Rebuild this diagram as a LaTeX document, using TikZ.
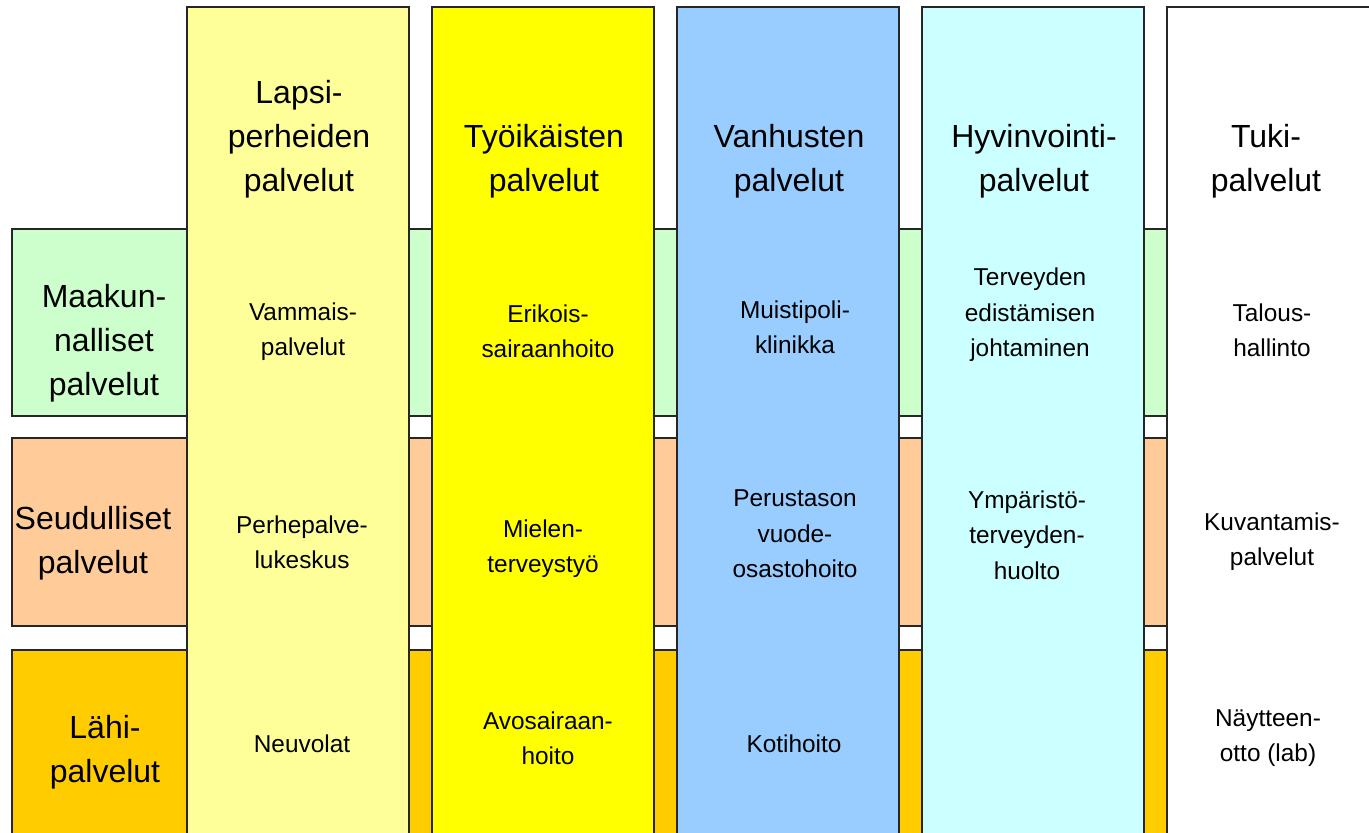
\documentclass[tikz,border=0pt]{standalone}
\usepackage{fontspec}
\setmainfont{Liberation Sans}
\definecolor{cgreen}{HTML}{CCFFCC}
\definecolor{cpeach}{HTML}{FFCC99}
\definecolor{cgold}{HTML}{FFCC00}
\definecolor{clyellow}{HTML}{FFFF99}
\definecolor{cyellow}{HTML}{FFFF00}
\definecolor{cblue}{HTML}{99CCFF}
\definecolor{ccyan}{HTML}{CCFFFF}
\begin{document}
\begin{tikzpicture}[x=0.75pt,y=-0.75pt,
  boxline/.style={draw=black!85,line width=0.9pt},
  head/.style={font=\fontsize{24}{33}\selectfont,align=center,inner sep=0pt},
  cell/.style={font=\fontsize{18.3}{26.5}\selectfont,align=center,inner sep=0pt}]
\useasboundingbox (0,0) rectangle (1369,832);
\clip (0,0) rectangle (1369,832);
% bands
\path[boxline,fill=cgreen] (12,229) rectangle (1168,416);
\path[boxline,fill=cpeach] (12,438) rectangle (1168,626);
\path[boxline,fill=cgold] (12,650) rectangle (1168,850);
% columns
\path[boxline,fill=clyellow] (187,7) rectangle (409,850);
\path[boxline,fill=cyellow] (432,7) rectangle (654,850);
\path[boxline,fill=cblue] (677,7) rectangle (899,850);
\path[boxline,fill=ccyan] (922,7) rectangle (1144,850);
\path[boxline,fill=white] (1167,7) rectangle (1390,850);
% band labels
\node[head] (bmaak) at (104,343) {Maakun-\\nalliset\\palvelut};
\node[head] (bseud) at (93,543) {Seudulliset\\palvelut};
\node[head] (blahi) at (105,752) {Lähi-\\palvelut};
% headers
\node[head] (hlapsi) at (299,139) {Lapsi-\\perheiden\\palvelut};
\node[head] (htyo) at (544,161) {Työikäisten\\palvelut};
\node[head] (hvanh) at (789,161) {Vanhusten\\palvelut};
\node[head] (hhyv) at (1034,161) {Hyvinvointi-\\palvelut};
\node[head] (htuki) at (1266,161) {Tuki-\\palvelut};
% row 1
\node[cell] (c11) at (303,332) {Vammais-\\palvelut};
\node[cell] (c12) at (548,331) {Erikois-\\sairaanhoito};
\node[cell] (c13) at (795,327) {Muistipoli-\\klinikka};
\node[cell] (c14) at (1030,315) {Terveyden\\edistämisen\\johtaminen};
\node[cell] (c15) at (1272,330) {Talous-\\hallinto};
% row 2
\node[cell] (c21) at (302,542) {Perhepalve-\\lukeskus};
\node[cell] (c22) at (543,549) {Mielen-\\terveystyö};
\node[cell] (c23) at (795,534) {Perustason\\vuode-\\osastohoito};
\node[cell] (c24) at (1027,535) {Ympäristö-\\terveyden-\\huolto};
\node[cell] (c25) at (1272,542) {Kuvantamis-\\palvelut};
% row 3
\node[cell] (c31) at (302,744) {Neuvolat};
\node[cell] (c32) at (548,738) {Avosairaan-\\hoito};
\node[cell] (c33) at (794,744) {Kotihoito};
\node[cell] (c35) at (1268,738) {Näytteen-\\otto (lab)};
\end{tikzpicture}
\end{document}
